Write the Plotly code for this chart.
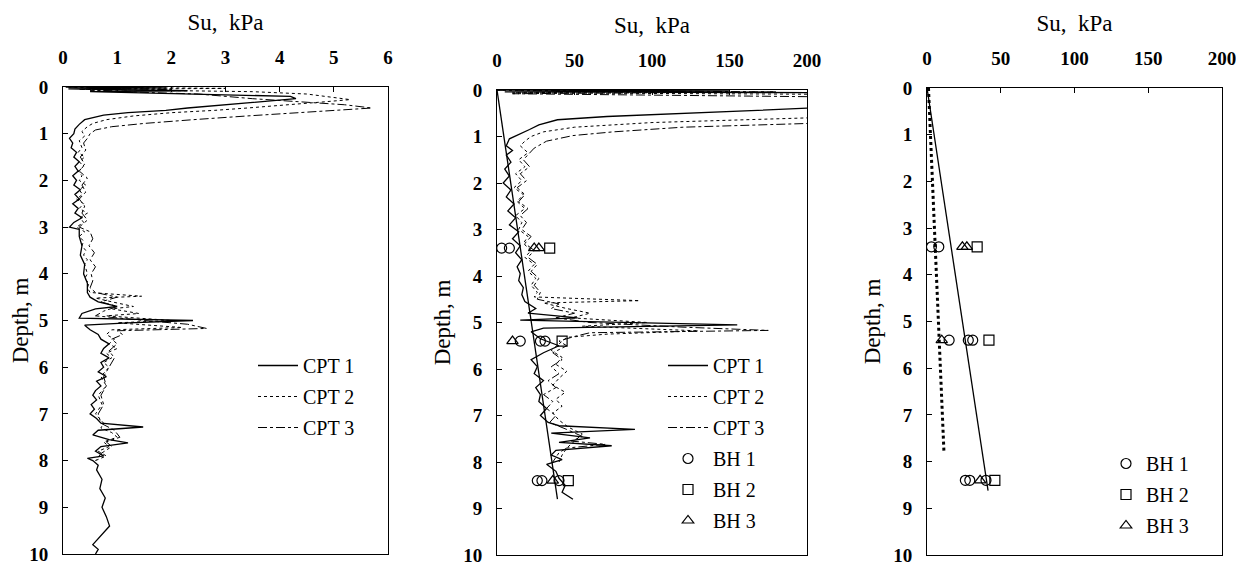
import plotly.graph_objects as go

# ---------------- Left panel: CPT profiles (0-6 scale) ----------------
cpt1_left_depth = [0.00, 0.02, 0.04, 0.08, 0.10, 0.15, 0.20, 0.25, 0.30, 0.35, 0.40, 0.45, 0.50, 0.55, 0.60,
                   0.65, 0.70, 0.80, 0.90, 1.00, 1.10, 1.20, 1.30, 1.40, 1.50, 1.60, 1.70, 1.80, 1.90, 2.00,
                   2.10, 2.20, 2.30, 2.40, 2.50, 2.60, 2.70, 2.80, 2.90, 3.00, 3.05, 3.20, 3.40, 3.60, 3.80,
                   4.00, 4.20, 4.40, 4.50, 4.60, 4.70, 4.75, 4.85, 4.95, 5.00, 5.05, 5.10, 5.20, 5.30, 5.40,
                   5.50, 5.60, 5.70, 5.80, 5.90, 6.00, 6.10, 6.20, 6.30, 6.40, 6.50, 6.60, 6.70, 6.80, 6.90,
                   7.00, 7.10, 7.20, 7.28, 7.35, 7.45, 7.55, 7.62, 7.70, 7.80, 7.90, 7.95, 8.00, 8.10, 8.20,
                   8.40, 8.60, 8.80, 9.00, 9.20, 9.40, 9.60, 9.80, 9.90, 10.00]
cpt1_left_su = [0.05, 1.90, 0.10, 2.30, 0.50, 2.50, 4.20, 4.30, 3.80, 3.20, 2.70, 2.30, 1.90, 1.20, 0.75,
                0.55, 0.40, 0.30, 0.22, 0.20, 0.12, 0.18, 0.15, 0.25, 0.20, 0.30, 0.22, 0.28, 0.18, 0.25,
                0.20, 0.32, 0.22, 0.30, 0.18, 0.28, 0.22, 0.35, 0.20, 0.12, 0.30, 0.30, 0.35, 0.32, 0.40,
                0.38, 0.45, 0.45, 0.50, 0.65, 1.00, 0.60, 0.35, 0.30, 2.40, 1.20, 0.40, 0.50, 0.65, 0.70,
                0.85, 0.75, 0.70, 0.85, 0.70, 0.75, 0.65, 0.80, 0.62, 0.70, 0.60, 0.55, 0.62, 0.52, 0.58,
                0.50, 0.62, 0.70, 1.48, 0.65, 0.55, 0.85, 1.20, 0.70, 0.60, 0.75, 0.45, 0.55, 0.65, 0.62,
                0.72, 0.68, 0.78, 0.72, 0.80, 0.86, 0.70, 0.55, 0.65, 0.60]

cpt2_left_depth = [0.00, 0.03, 0.05, 0.10, 0.15, 0.22, 0.27, 0.32, 0.40, 0.45, 0.50, 0.55, 0.62, 0.70, 0.78,
                   0.85, 0.95, 1.05, 1.15, 1.30, 1.40, 1.50, 1.60, 1.70, 1.80, 1.90, 2.00, 2.10, 2.20, 2.30,
                   2.40, 2.50, 2.60, 2.70, 2.80, 2.90, 3.00, 3.10, 3.20, 3.30, 3.40, 3.50, 3.60, 3.70, 3.80,
                   3.90, 4.00, 4.10, 4.20, 4.30, 4.40, 4.48, 4.52, 4.60, 4.70, 4.75, 4.85, 4.90, 5.00, 5.05,
                   5.15, 5.20, 5.30, 5.40, 5.50, 5.60, 5.70, 5.80, 5.90, 6.00, 6.20, 6.40, 6.60, 6.80, 7.00,
                   7.20, 7.30, 7.40, 7.50, 7.60, 7.70, 7.80, 7.90, 8.00]
cpt2_left_su = [0.10, 3.00, 0.30, 3.50, 4.50, 5.00, 5.30, 4.80, 4.00, 3.40, 2.80, 2.00, 1.30, 0.80, 0.55,
                0.45, 0.35, 0.40, 0.30, 0.35, 0.28, 0.40, 0.30, 0.38, 0.28, 0.35, 0.30, 0.42, 0.30, 0.36,
                0.25, 0.38, 0.30, 0.45, 0.32, 0.38, 0.25, 0.40, 0.30, 0.38, 0.35, 0.42, 0.38, 0.45, 0.40,
                0.42, 0.45, 0.40, 0.48, 0.45, 0.50, 1.45, 0.60, 0.90, 1.30, 0.90, 1.40, 0.80, 2.00, 1.00,
                2.20, 0.90, 0.80, 0.95, 0.85, 1.00, 0.80, 0.90, 0.75, 0.85, 0.70, 0.80, 0.65, 0.72, 0.60,
                0.75, 0.70, 0.90, 1.00, 0.75, 0.85, 0.65, 0.80, 0.60]

cpt3_left_depth = [0.00, 0.05, 0.08, 0.15, 0.25, 0.32, 0.38, 0.45, 0.50, 0.55, 0.62, 0.70, 0.78, 0.85, 0.92,
                   1.00, 1.10, 1.20, 1.35, 1.50, 1.65, 1.80, 1.95, 2.10, 2.25, 2.40, 2.55, 2.70, 2.85, 3.00,
                   3.10, 3.25, 3.40, 3.55, 3.70, 3.85, 4.00, 4.15, 4.30, 4.40, 4.50, 4.60, 4.70, 4.80, 4.90,
                   5.00, 5.08, 5.17, 5.22, 5.30, 5.40, 5.50, 5.65, 5.80, 6.00, 6.20, 6.40, 6.60, 6.80, 7.00,
                   7.20, 7.35, 7.50, 7.60, 7.70, 7.85, 8.00]
cpt3_left_su = [0.10, 2.00, 0.50, 2.50, 3.50, 4.50, 5.20, 5.70, 5.00, 4.20, 3.40, 2.40, 1.50, 0.90, 0.60,
                0.50, 0.45, 0.38, 0.42, 0.32, 0.40, 0.30, 0.45, 0.35, 0.42, 0.30, 0.40, 0.35, 0.45, 0.30,
                0.50, 0.55, 0.48, 0.58, 0.50, 0.60, 0.52, 0.55, 0.50, 0.60, 1.00, 0.70, 1.00, 0.75, 0.60,
                1.50, 2.30, 2.65, 1.00, 1.10, 0.90, 1.00, 0.85, 0.95, 0.85, 0.75, 0.80, 0.70, 0.75, 0.65,
                0.70, 0.95, 1.05, 0.80, 0.90, 0.70, 0.60]

# ---------------- Middle panel: CPT profiles (0-200 kPa) ----------------
cpt1_mid_depth = [0.00, 0.02, 0.04, 0.06, 0.30, 0.39, 0.45, 0.50, 0.57, 0.64, 0.75, 0.85, 0.95, 1.05, 1.20,
                  1.30, 1.40, 1.55, 1.70, 1.85, 2.00, 2.15, 2.30, 2.45, 2.60, 2.75, 2.90, 3.05, 3.20, 3.35,
                  3.50, 3.65, 3.80, 3.95, 4.10, 4.25, 4.40, 4.55, 4.70, 4.80, 4.90, 4.95, 5.05, 5.12, 5.20,
                  5.35, 5.50, 5.65, 5.80, 5.95, 6.10, 6.25, 6.40, 6.55, 6.70, 6.85, 7.00, 7.15, 7.22, 7.30,
                  7.38, 7.48, 7.58, 7.65, 7.75, 7.85, 7.95, 8.05, 8.20, 8.35, 8.50, 8.65, 8.80]
cpt1_mid_su = [0, 150, 5, 250, 300, 200, 160, 124, 71, 39, 27, 21, 14, 8, 6,
               10, 6, 9, 5, 8, 4, 9, 6, 11, 7, 12, 8, 14, 10, 15,
               12, 16, 13, 15, 14, 17, 16, 18, 25, 20, 52, 15, 155, 30, 22,
               28, 40, 30, 22, 26, 24, 30, 25, 28, 27, 32, 28, 33, 40, 89,
               35, 60, 40, 74, 38, 35, 42, 32, 38, 40, 44, 42, 49]

cpt2_mid_depth = [0.00, 0.03, 0.06, 0.10, 0.20, 0.40, 0.60, 0.70, 0.80, 0.90, 1.00, 1.10, 1.20, 1.35, 1.50,
                  1.65, 1.80, 1.95, 2.10, 2.25, 2.40, 2.55, 2.70, 2.85, 3.00, 3.15, 3.30, 3.45, 3.60, 3.75,
                  3.90, 4.05, 4.20, 4.35, 4.45, 4.53, 4.58, 4.70, 4.80, 4.90, 5.00, 5.08, 5.18, 5.25, 5.32,
                  5.45, 5.60, 5.75, 5.90, 6.05, 6.20, 6.35, 6.50, 6.65, 6.80, 6.95, 7.10, 7.25, 7.40, 7.55,
                  7.70, 7.85, 8.00]
cpt2_mid_su = [0, 120, 10, 260, 300, 260, 200, 100, 50, 30, 22, 18, 15, 20, 14,
               18, 12, 16, 11, 17, 13, 18, 12, 16, 14, 20, 17, 22, 18, 24,
               20, 25, 22, 26, 24, 92, 30, 45, 60, 48, 97, 55, 130, 71, 45,
               40, 35, 42, 38, 45, 40, 36, 44, 38, 42, 36, 40, 46, 55, 50,
               45, 42, 40]

cpt3_mid_depth = [0.00, 0.04, 0.08, 0.15, 0.40, 0.72, 0.80, 0.90, 0.98, 1.10, 1.25, 1.40, 1.50, 1.65, 1.80,
                  1.95, 2.10, 2.25, 2.40, 2.55, 2.70, 2.85, 3.00, 3.15, 3.30, 3.45, 3.60, 3.75, 3.90, 4.05,
                  4.20, 4.35, 4.50, 4.60, 4.70, 4.80, 4.90, 5.00, 5.10, 5.17, 5.22, 5.30, 5.40, 5.50, 5.65,
                  5.80, 5.95, 6.10, 6.25, 6.40, 6.55, 6.70, 6.85, 7.00, 7.15, 7.30, 7.45, 7.55, 7.62, 7.70,
                  7.80, 7.90, 8.00]
cpt3_mid_su = [0, 180, 10, 220, 300, 200, 120, 75, 49, 32, 24, 20, 17, 21, 15,
               19, 13, 18, 14, 20, 15, 19, 16, 22, 18, 24, 20, 26, 22, 27,
               24, 28, 26, 40, 35, 50, 38, 60, 120, 175, 60, 50, 40, 45, 36,
               42, 35, 40, 33, 38, 30, 36, 32, 38, 34, 45, 55, 48, 70, 45,
               40, 38, 36]

# ---------------- Borehole (BH) values ----------------
bh1_depth = [3.4, 3.4, 5.4, 5.4, 5.4, 8.4, 8.4, 8.4]
bh1_su = [3, 8, 15, 28, 31, 26, 29, 40]
bh2_depth = [3.4, 5.4, 8.4]
bh2_su = [34, 42, 46]
bh3_depth = [3.4, 3.4, 5.4, 8.4]
bh3_su = [24, 27, 10, 36]

# ---------------- Trend lines ----------------
trend_mid_depth = [0.0, 8.8]
trend_mid_su = [0, 39]
trend_right_depth = [0.0, 8.62]
trend_right_su = [0, 41.4]
dotted_right_depth = [0.0, 7.8]
dotted_right_su = [1, 11.5]

depth_ticks = [0, 1, 2, 3, 4, 5, 6, 7, 8, 9, 10]

# ---------------- Figure ----------------
FONT = "Liberation Serif"
OFF = 8                      # page body margin
W, H = 1244 - OFF, 566 - OFF  # figure size so it fits the window


def px_x(p):
    """screen x pixel -> paper fraction"""
    return (p - OFF) / W


def px_y(p):
    """screen y pixel -> paper fraction"""
    return 1 - (p - OFF) / H


fig = go.Figure()

line_styles = [("CPT 1", "solid", 1.3), ("CPT 2", "dot", 1.0), ("CPT 3", "dashdot", 1.0)]

left_data = [(cpt1_left_depth, cpt1_left_su), (cpt2_left_depth, cpt2_left_su), (cpt3_left_depth, cpt3_left_su)]
for i, ((name, dash, w), (d, s)) in enumerate(zip(line_styles, left_data)):
    fig.add_trace(go.Scatter(x=s, y=d, mode="lines", name=name, legendgroup="L%d" % i,
                             line=dict(color="black", dash=dash, width=w),
                             xaxis="x", yaxis="y", legend="legend"))

mid_data = [(cpt1_mid_depth, cpt1_mid_su), (cpt2_mid_depth, cpt2_mid_su), (cpt3_mid_depth, cpt3_mid_su)]
for i, ((name, dash, w), (d, s)) in enumerate(zip(line_styles, mid_data)):
    fig.add_trace(go.Scatter(x=s, y=d, mode="lines", name=name, legendgroup="M%d" % i,
                             line=dict(color="black", dash=dash, width=w),
                             xaxis="x2", yaxis="y2", legend="legend2"))

fig.add_trace(go.Scatter(x=trend_mid_su, y=trend_mid_depth, mode="lines", showlegend=False,
                         line=dict(color="black", width=1.3), xaxis="x2", yaxis="y2"))

bh_sets = [("BH 1", "circle-open", bh1_depth, bh1_su),
           ("BH 2", "square-open", bh2_depth, bh2_su),
           ("BH 3", "triangle-up-open", bh3_depth, bh3_su)]
for i, (name, sym, d, s) in enumerate(bh_sets):
    fig.add_trace(go.Scatter(x=s, y=d, mode="markers", name=name, legendgroup="MB%d" % i,
                             marker=dict(symbol=sym, size=10, color="black", line=dict(width=1.2, color="black")),
                             xaxis="x2", yaxis="y2", legend="legend2"))

fig.add_trace(go.Scatter(x=trend_right_su, y=trend_right_depth, mode="lines", showlegend=False,
                         line=dict(color="black", width=1.3), xaxis="x3", yaxis="y3"))
fig.add_trace(go.Scatter(x=dotted_right_su, y=dotted_right_depth, mode="lines", showlegend=False,
                         line=dict(color="black", width=3, dash="dot"), xaxis="x3", yaxis="y3"))
for i, (name, sym, d, s) in enumerate(bh_sets):
    fig.add_trace(go.Scatter(x=s, y=d, mode="markers", name=name, legendgroup="RB%d" % i,
                             marker=dict(symbol=sym, size=10, color="black", line=dict(width=1.2, color="black")),
                             xaxis="x3", yaxis="y3", legend="legend3"))

tick_font = dict(family=FONT, size=19, color="black", weight="bold")
title_font = dict(family=FONT, size=23, color="black")


def xax(domain, rng, dtick, anchor):
    return dict(domain=domain, range=rng, dtick=dtick, side="top", anchor=anchor, automargin=False,
                ticks="inside", ticklen=5, tickcolor="black", showline=True, linecolor="black",
                linewidth=1, mirror=True, showgrid=False, zeroline=False, tickfont=tick_font,
                ticklabelstandoff=14, ticklabeloverflow="allow",
                title=dict(text="Su,  kPa", font=title_font, standoff=10))


def yax(domain, anchor):
    return dict(domain=domain, range=[10, 0], tickmode="array", tickvals=depth_ticks, anchor=anchor,
                automargin=False,
                ticks="inside", ticklen=5, tickcolor="black", showline=True, linecolor="black",
                linewidth=1, mirror=True, showgrid=False, zeroline=False, tickfont=tick_font,
                ticklabelstandoff=10, ticklabeloverflow="allow",
                title=dict(text="Depth, m", font=title_font, standoff=6))


legend_font = dict(family=FONT, size=20, color="black")

fig.update_layout(
    width=W, height=H,
    margin=dict(l=0, r=0, t=0, b=0),
    paper_bgcolor="white", plot_bgcolor="white",
    font=dict(family=FONT, color="black"),
    xaxis=xax([px_x(63), px_x(388)], [0, 6], 1, "y"),
    yaxis=yax([px_y(554), px_y(87)], "x"),
    xaxis2=xax([px_x(497), px_x(807)], [0, 200], 50, "y2"),
    yaxis2=yax([px_y(555), px_y(90)], "x2"),
    xaxis3=xax([px_x(927), px_x(1222)], [0, 200], 50, "y3"),
    yaxis3=yax([px_y(555), px_y(88)], "x3"),
    legend=dict(x=px_x(253), y=px_y(346), xanchor="left", yanchor="top", font=legend_font,
                bgcolor="rgba(0,0,0,0)", itemwidth=40, tracegroupgap=2),
    legend2=dict(x=px_x(663), y=px_y(346), xanchor="left", yanchor="top", font=legend_font,
                 bgcolor="rgba(0,0,0,0)", itemwidth=40, tracegroupgap=2),
    legend3=dict(x=px_x(1106), y=px_y(444), xanchor="left", yanchor="top", font=legend_font,
                 bgcolor="rgba(0,0,0,0)", itemwidth=30, tracegroupgap=2),
    showlegend=True,
)

fig.write_html("out.html")
